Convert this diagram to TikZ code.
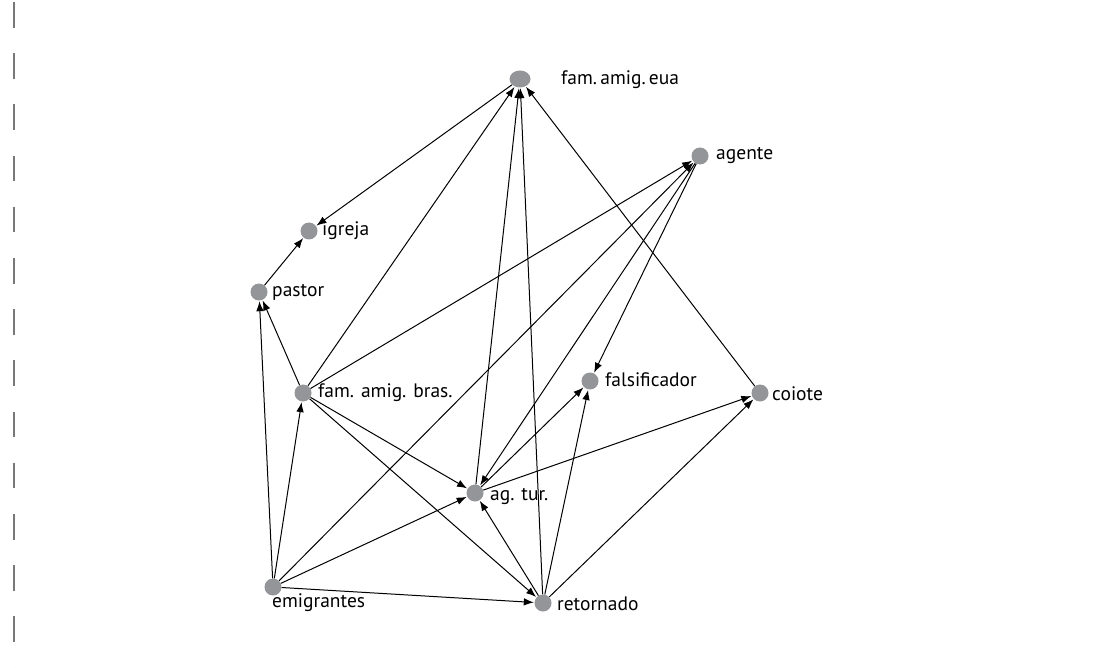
\documentclass[tikz,border=0pt]{standalone}
\usepackage{fontspec}
\setmainfont{PT Sans}
\usetikzlibrary{arrows.meta,shapes.geometric}
\definecolor{dotgray}{RGB}{147,149,152}
\definecolor{dashgray}{RGB}{120,120,120}
\begin{document}
\begin{tikzpicture}[x=1pt,y=-1pt,
  dot/.style={circle,fill=dotgray,draw=none,minimum size=17pt,inner sep=0pt},
  edot/.style={ellipse,fill=dotgray,draw=none,minimum width=21pt,minimum height=17pt,inner sep=0pt},
  lbl/.style={font=\fontsize{19.5}{22}\selectfont,inner sep=0pt,anchor=west},
  edge/.style={-{Latex[length=10pt,width=7.5pt]},line width=1pt,shorten >=0.5pt}]
\useasboundingbox (0,0) rectangle (1113,668);
\fill[white] (0,0) rectangle (1113,668);
\draw[dashgray,line width=1.4pt,dash pattern=on 25.6pt off 25.6pt] (14,2) -- (14,668);

\node[edot] (eua) at (520,79) {};
\node[dot] (agente) at (700,156) {};
\node[dot] (igreja) at (309,231) {};
\node[dot] (pastor) at (259,292) {};
\node[dot] (fab) at (303,393) {};
\node[dot] (fals) at (590,381) {};
\node[dot] (coiote) at (760,393) {};
\node[dot] (agtur) at (475,493) {};
\node[dot] (ret) at (543,603) {};
\node[dot] (emi) at (273,587) {};

\node[lbl] (leua) at (561,80) {fam.\,amig.\,eua};
\node[lbl] (lagente) at (716,156) {agente};
\node[lbl] (ligreja) at (322,231) {igreja};
\node[lbl] (lpastor) at (272,292) {pastor};
\node[lbl] (lfab) at (318,393) {fam. amig. bras.};
\node[lbl] (lfals) at (605,380) {falsificador};
\node[lbl] (lcoiote) at (772,394) {coiote};
\node[lbl] (lagtur) at (490,496) {ag. tur.};
\node[lbl] (lret) at (557,604) {retornado};
\node[lbl] (lemi) at (272,603) {emigrantes};

\draw[edge] (eua) -- (igreja);
\draw[edge] (pastor) -- (igreja);
\draw[edge] (emi) -- (pastor);
\draw[edge] (fab) -- (pastor);
\draw[edge] (emi) -- (fab);
\draw[edge] (fab) -- (eua);
\draw[edge] (fab) -- (agente);
\draw[edge] (fab) -- (agtur);
\draw[edge] (fab) -- (ret);
\draw[edge] (emi) -- (agente);
\draw[edge] (emi) -- (agtur);
\draw[edge] (emi) -- (ret);
\draw[edge] (agtur) -- (eua);
\draw[edge] (ret) -- (eua);
\draw[edge] (coiote) -- (eua);
\draw[edge] (agente) -- (fals);
\draw[edge] (agente) -- (agtur);
\draw[edge] (agtur) -- (fals);
\draw[edge] (agtur) -- (coiote);
\draw[edge] (ret) -- (agtur);
\draw[edge] (ret) -- (fals);
\draw[edge] (ret) -- (coiote);
\end{tikzpicture}
\end{document}
